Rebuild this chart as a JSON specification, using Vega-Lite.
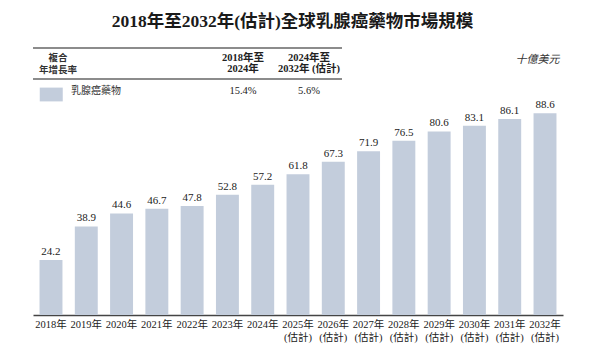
{
  "$schema": "https://vega.github.io/schema/vega-lite/v6.json",
  "background": "white",
  "padding": {"left": 32, "top": 12, "right": 10, "bottom": 5},
  "bounds": "flush",
  "spacing": 0,
  "title": {
    "text": "2018年至2032年(估計)全球乳腺癌藥物市場規模",
    "font": "Liberation Serif, Noto Sans CJK TC",
    "fontSize": 17.5,
    "fontWeight": "bold",
    "color": "#1a1a1a",
    "anchor": "middle",
    "offset": 15,
    "dx": -5,
    "dy": -2
  },
  "config": {
    "view": {"stroke": null},
    "font": "Liberation Serif, Noto Sans CJK TC"
  },
  "datasets": {
    "rows": [{"row": "head"}, {"row": "data"}],
    "header": [
      {"row": "head", "col": "hdr", "text": "複合\n年增長率"}
    ],
    "legend": [
      {"row": "data", "sw": "swatch", "nm": "name", "text": "乳腺癌藥物"}
    ],
    "valuecols": [
      {"row": "head", "col": "c1", "text": "2018年至\n2024年"},
      {"row": "head", "col": "c2", "text": "2024年至\n2032年 (估計)"},
      {"row": "data", "col": "c1", "text": "15.4%"},
      {"row": "data", "col": "c2", "text": "5.6%"}
    ],
    "market": [
      {"year": "2018年", "value": 24.2},
      {"year": "2019年", "value": 38.9},
      {"year": "2020年", "value": 44.6},
      {"year": "2021年", "value": 46.7},
      {"year": "2022年", "value": 47.8},
      {"year": "2023年", "value": 52.8},
      {"year": "2024年", "value": 57.2},
      {"year": "2025年(估計)", "value": 61.8},
      {"year": "2026年(估計)", "value": 67.3},
      {"year": "2027年(估計)", "value": 71.9},
      {"year": "2028年(估計)", "value": 76.5},
      {"year": "2029年(估計)", "value": 80.6},
      {"year": "2030年(估計)", "value": 83.1},
      {"year": "2031年(估計)", "value": 86.1},
      {"year": "2032年(估計)", "value": 88.6}
    ]
  },
  "vconcat": [
    {
      "width": 309,
      "height": 62,
      "resolve": {"scale": {"x": "independent"}},
      "layer": [
        {
          "data": {"name": "rows"},
          "mark": {"type": "rule", "stroke": "#8c8c8c", "strokeWidth": 2},
          "encoding": {
            "y": {"field": "row", "type": "nominal", "bandPosition": 0,
                  "scale": {"type": "band", "domain": ["head", "data"], "paddingInner": 0, "paddingOuter": 0}, "axis": null}
          }
        },
        {
          "data": {"name": "header"},
          "mark": {"type": "text", "lineBreak": "\n", "lineHeight": 12.5, "fontSize": 9.5, "font": "Noto Sans CJK TC", "fontWeight": "bold", "color": "#333", "baseline": "middle", "dy": -6},
          "encoding": {
            "x": {"field": "col", "type": "nominal", "axis": null,
                  "scale": {"type": "band", "domain": ["hdr"], "range": [0, 50], "paddingInner": 0, "paddingOuter": 0}},
            "y": {"field": "row", "type": "nominal"},
            "text": {"field": "text"}
          }
        },
        {
          "data": {"name": "legend"},
          "mark": {"type": "point", "shape": "M-1,-0.6H1V0.6H-1Z", "size": 529, "filled": true, "fill": "#c3cddc", "strokeWidth": 0, "opacity": 1, "dx": 3, "dy": -3.5},
          "encoding": {
            "x": {"field": "sw", "type": "nominal", "axis": null,
                  "scale": {"type": "band", "domain": ["swatch", "name"], "range": [0, 73], "paddingInner": 0, "paddingOuter": 0}},
            "y": {"field": "row", "type": "nominal"}
          }
        },
        {
          "data": {"name": "legend"},
          "mark": {"type": "text", "fontSize": 10, "font": "Noto Sans CJK TC", "color": "#333", "baseline": "middle", "align": "left", "dy": -3.5, "dx": 1.5},
          "encoding": {
            "x": {"field": "nm", "type": "nominal", "axis": null, "bandPosition": 0,
                  "scale": {"type": "band", "domain": ["swatch", "name"], "range": [0, 73], "paddingInner": 0, "paddingOuter": 0}},
            "y": {"field": "row", "type": "nominal"},
            "text": {"field": "text"}
          }
        },
        {
          "data": {"name": "valuecols"},
          "transform": [{"filter": "datum.row == 'head'"}],
          "mark": {"type": "text", "lineBreak": "\n", "lineHeight": 11.5, "fontSize": 10.5, "fontWeight": "bold", "color": "#222", "baseline": "middle", "dy": -6},
          "encoding": {
            "x": {"field": "col", "type": "nominal", "axis": null,
                  "scale": {"type": "band", "domain": ["c1", "c2"], "range": [177, 309], "paddingInner": 0, "paddingOuter": 0}},
            "y": {"field": "row", "type": "nominal"},
            "text": {"field": "text"}
          }
        },
        {
          "data": {"name": "valuecols"},
          "transform": [{"filter": "datum.row == 'data'"}],
          "mark": {"type": "text", "fontSize": 10.5, "color": "#222", "baseline": "middle", "dy": -3.5},
          "encoding": {
            "x": {"field": "col", "type": "nominal", "axis": null,
                  "scale": {"type": "band", "domain": ["c1", "c2"], "range": [177, 309], "paddingInner": 0, "paddingOuter": 0}},
            "y": {"field": "row", "type": "nominal"},
            "text": {"field": "text"}
          }
        }
      ]
    },
    {
      "width": 530,
      "height": 205,
      "data": {"name": "market"},
      "encoding": {
        "x": {
          "field": "year", "type": "nominal", "sort": null,
          "scale": {"paddingInner": 0.35, "paddingOuter": 0.185},
          "axis": {
            "title": null,
            "domainColor": "#444",
            "domainWidth": 1.5,
            "ticks": false,
            "labelAngle": 0,
            "labelFont": "Liberation Serif, Noto Sans CJK TC",
            "labelFontSize": 10.5,
            "labelColor": "#222",
            "labelPadding": 4,
            "labelLineHeight": 13,
            "labelBaseline": "top",
            "labelExpr": "indexof(datum.label, '(') > 0 ? [slice(datum.label, 0, indexof(datum.label, '(')), slice(datum.label, indexof(datum.label, '('))] : datum.label"
          }
        },
        "y": {
          "field": "value", "type": "quantitative",
          "scale": {"domain": [0, 90], "nice": false},
          "axis": {
            "orient": "right",
            "title": "十億美元",
            "labels": false,
            "ticks": false,
            "domain": false,
            "grid": false,
            "titleAngle": 0,
            "titleAnchor": "end",
            "titleAlign": "right",
            "titleBaseline": "middle",
            "titleX": -4,
            "titleY": -51,
            "titleFont": "Liberation Serif, Noto Sans CJK TC",
            "titleFontStyle": "italic",
            "titleFontWeight": "normal",
            "titleFontSize": 11,
            "titleColor": "#333"
          }
        }
      },
      "layer": [
        {"mark": {"type": "bar", "color": "#c3cddc"}},
        {
          "mark": {"type": "text", "baseline": "bottom", "dy": -3, "fontSize": 11, "color": "#222", "font": "Liberation Serif"},
          "encoding": {"text": {"field": "value", "type": "quantitative", "format": ".1f"}}
        }
      ]
    }
  ]
}
